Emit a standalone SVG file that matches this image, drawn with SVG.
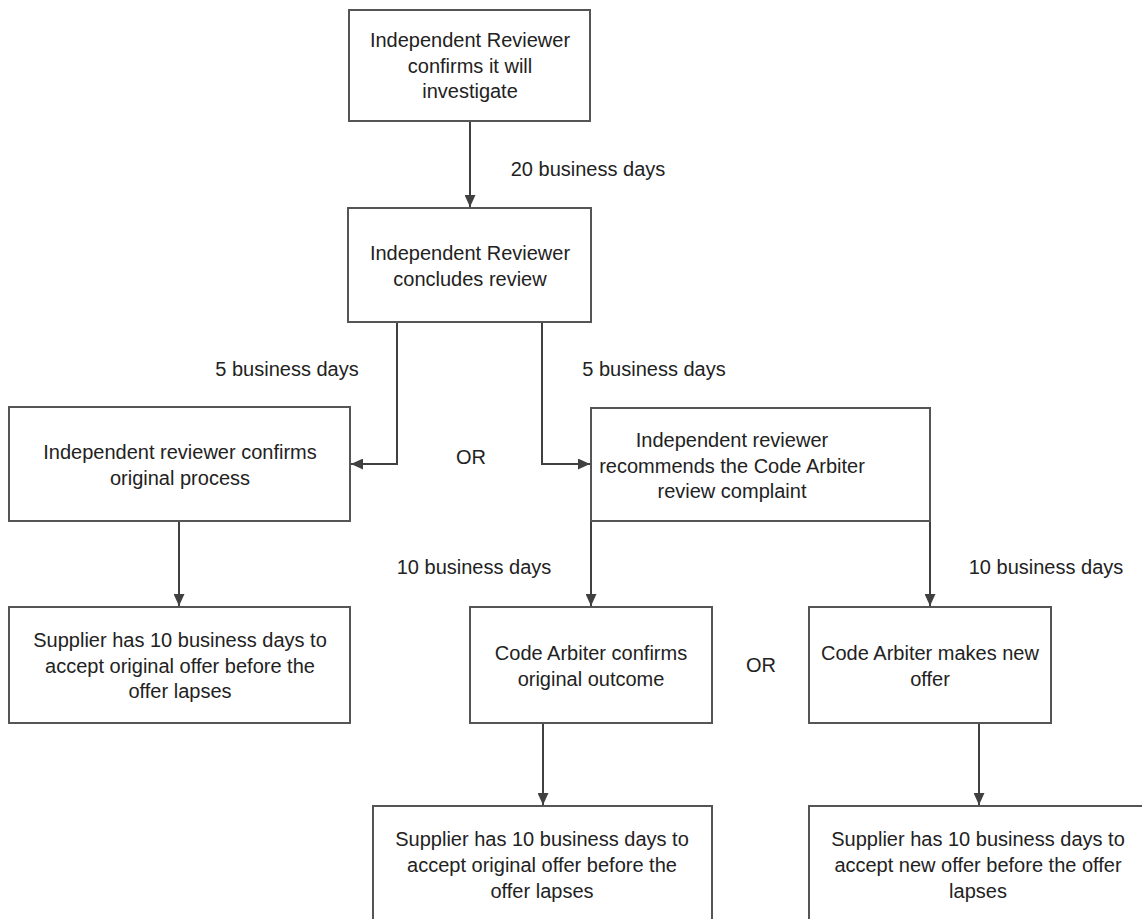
<svg xmlns="http://www.w3.org/2000/svg" width="1142" height="919" viewBox="0 0 1142 919">
<defs>
<marker id="arr" markerUnits="userSpaceOnUse" markerWidth="12" markerHeight="11" refX="12" refY="5.5" orient="auto">
<path d="M0,0 L12,5.5 L0,11 Z" fill="#404040"/>
</marker>
<style>
rect.box{fill:#fff;stroke:#555;stroke-width:2}
text{font-family:"Liberation Sans",Arial,sans-serif;font-size:20px;fill:#222;text-anchor:middle}
.conn path{fill:none;stroke:#404040;stroke-width:2;marker-end:url(#arr)}
</style>
</defs>
<rect width="1142" height="919" fill="#fff"/>
<g class="conn" id="connectors">
<path d="M470,121 V207"/>
<path d="M397,322 V464 H351"/>
<path d="M542,322 V464 H590"/>
<path d="M179,521 V606"/>
<path d="M591,521 V606"/>
<path d="M930,521 V606"/>
<path d="M543,723 V805"/>
<path d="M979,723 V805"/>
</g>
<g id="n1"><rect class="box" x="349" y="10" width="241" height="111"/>
<text x="470" y="47">Independent Reviewer</text><text x="470" y="73">confirms it will</text><text x="470" y="98">investigate</text></g>
<g id="n2"><rect class="box" x="348" y="208" width="243" height="114"/>
<text x="470" y="260">Independent Reviewer</text><text x="470" y="286">concludes review</text></g>
<g id="n3"><rect class="box" x="9" y="407" width="341" height="114"/>
<text x="180" y="459">Independent reviewer confirms</text><text x="180" y="485">original process</text></g>
<g id="n4"><rect class="box" x="591" y="408" width="339" height="113"/>
<text x="732" y="447">Independent reviewer</text><text x="732" y="473">recommends the Code Arbiter</text><text x="732" y="498">review complaint</text></g>
<g id="n5"><rect class="box" x="9" y="607" width="341" height="116"/>
<text x="180" y="647">Supplier has 10 business days to</text><text x="180" y="673">accept original offer before the</text><text x="180" y="698">offer lapses</text></g>
<g id="n6"><rect class="box" x="470" y="607" width="242" height="116"/>
<text x="591" y="660">Code Arbiter confirms</text><text x="591" y="686">original outcome</text></g>
<g id="n7"><rect class="box" x="809" y="607" width="242" height="116"/>
<text x="930" y="660">Code Arbiter makes new</text><text x="930" y="686">offer</text></g>
<g id="n8"><rect class="box" x="373" y="806" width="339" height="130"/>
<text x="542" y="846">Supplier has 10 business days to</text><text x="542" y="872">accept original offer before the</text><text x="542" y="898">offer lapses</text></g>
<g id="n9"><rect class="box" x="809" y="806" width="340" height="130"/>
<text x="978" y="846">Supplier has 10 business days to</text><text x="978" y="872">accept new offer before the offer</text><text x="978" y="898">lapses</text></g>
<g id="labels">
<text x="588" y="176">20 business days</text>
<text x="287" y="376">5 business days</text>
<text x="654" y="376">5 business days</text>
<text x="471" y="464">OR</text>
<text x="474" y="574">10 business days</text>
<text x="1046" y="574">10 business days</text>
<text x="761" y="672">OR</text>
</g>
</svg>
